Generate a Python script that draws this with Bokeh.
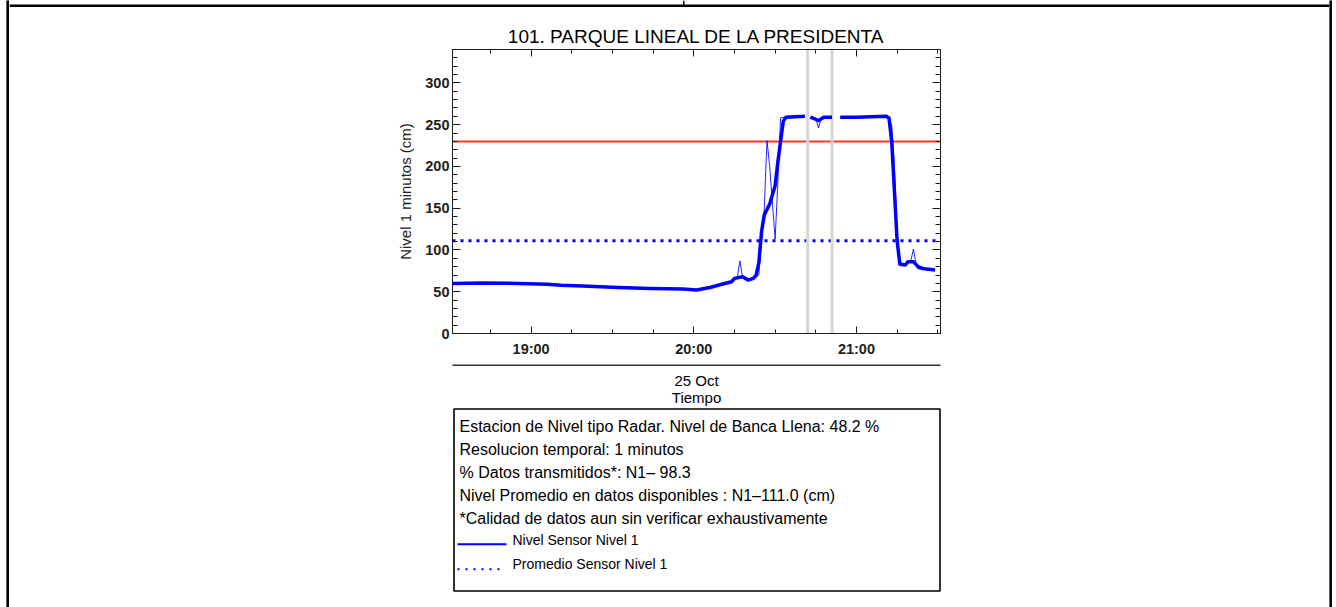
import pandas as pd
from bokeh.plotting import figure
from bokeh.layouts import column, row
from bokeh.models import (Range1d, FixedTicker, SingleIntervalTicker, DatetimeTickFormatter,
                          DatetimeAxis, LinearAxis, Span, Spacer)
from bokeh.core.properties import value
from bokeh.embed import file_html
from bokeh.resources import INLINE

nan = float("nan")
FONT = "Liberation Sans"

# ---------------- data ----------------
day = "2024-10-25"
title_text = "101. PARQUE LINEAL DE LA PRESIDENTA"
y_label = "Nivel 1 minutos (cm)"
date_label = "25 Oct"
x_label = "Tiempo"
x_start, x_end = "18:31", "21:31"
y_start, y_end = 0, 340
hour_ticks = ["19:00", "20:00", "21:00"]

level_times = ["18:31", "18:42", "18:55", "19:06", "19:11", "19:19", "19:32", "19:44", "19:56",
               "20:01", "20:06", "20:11", "20:14", "20:15", "20:18", "20:20", "20:22", "20:23",
               "20:24", "20:25", "20:26", "20:28", "20:30", "20:31", "20:33", "20:34", "20:41",
               "20:42", "20:43", "20:46", "20:48", "20:51", "20:52", "20:54", "21:00", "21:11",
               "21:12", "21:13", "21:14", "21:15", "21:16", "21:18", "21:19", "21:21", "21:23",
               "21:25", "21:29"]
level_vals = [60, 60.5, 60, 59, 57.7, 57, 55, 54, 53.3,
              52, 55, 59.5, 62, 66, 68, 64, 66, 70,
              85, 122, 142, 155, 177, 205, 254, 259, 260,
              nan, 259, 255, 259, 259, nan, 259, 259, 260,
              258, 230, 171, 111, 83, 82, 86, 86, 79,
              77.6, 76]

raw_times = ["18:31", "18:42", "18:55", "19:06", "19:11", "19:19", "19:32", "19:44", "19:56",
             "20:01", "20:06", "20:11", "20:14", "20:16", "20:17", "20:18", "20:20", "20:22",
             "20:24", "20:25", "20:26", "20:27", "20:28", "20:30", "20:31", "20:32", "20:35",
             "20:41", "20:42", "20:43", "20:45", "20:46", "20:47", "20:51", "20:52", "20:54",
             "21:00", "21:11", "21:13", "21:14", "21:15", "21:16", "21:17", "21:20", "21:21",
             "21:22", "21:25", "21:29"]
raw_vals = [60, 60.5, 60, 59, 58, 57, 55, 54, 53,
            52, 55, 59.5, 62, 66, 87, 67, 64, 66,
            70, 115, 150, 231, 200, 113, 180, 258, 260,
            260, nan, 259, 258, 246, 258, 259, nan, 259,
            259, 260, 250, 200, 120, 88, 82, 86, 101,
            83, 78, 76]

bankfull_level = 230
mean_level = 111.0
missing_times = ["20:42", "20:51"]

info_lines = [
    "Estacion de Nivel tipo Radar. Nivel de Banca Llena: 48.2 %",
    "Resolucion temporal: 1 minutos",
    "% Datos transmitidos*: N1\u2013 98.3",
    "Nivel Promedio en datos disponibles : N1\u2013111.0 (cm)",
    "*Calidad de datos aun sin verificar exhaustivamente",
]
legend_labels = ["Nivel Sensor Nivel 1", "Promedio Sensor Nivel 1"]

# ---------------- helpers ----------------
EPOCH = pd.Timestamp("1970-01-01")


def ts(lst):
    return pd.to_datetime([f"{day} {t}" for t in lst])


def ms(lst):
    return [float((t - EPOCH) / pd.Timedelta("1ms")) for t in ts(lst)]


BLUE = "#0000ff"
RED = "#f23c1e"
INK = "#1a1a1a"


def deco(x0, x1, y0, y1):
    f = figure(width=int(x1 - x0), height=int(y1 - y0), x_range=Range1d(x0, x1),
               y_range=Range1d(y1, y0), output_backend="svg", toolbar_location=None,
               min_border=0, x_axis_location=None, y_axis_location=None)
    f.outline_line_color = None
    f.xgrid.visible = False
    f.ygrid.visible = False
    f.background_fill_color = "white"
    f.border_fill_color = "white"
    return f


def strip(w, h):
    f = figure(width=w, height=h, x_range=Range1d(0, w), y_range=Range1d(0, h),
               output_backend="svg", toolbar_location=None, min_border=0,
               x_axis_location=None, y_axis_location=None)
    f.outline_line_color = None
    f.xgrid.visible = False
    f.ygrid.visible = False
    f.background_fill_color = "black"
    f.border_fill_color = "black"
    f.quad(left=[0], right=[w], bottom=[0], top=[h], fill_color="black", line_color=None)
    return f


# ---------------- top strip (title) ----------------
T = deco(9, 1329, 0, 48)
T.quad(left=[9], right=[1329], top=[4], bottom=[6.5], fill_color="black", line_color=None)
T.quad(left=[682.5], right=[684], top=[0], bottom=[4.5], fill_color="black", line_color=None)
T.text(x=[696], y=[36], text=[title_text], text_font=value(FONT), text_font_size="19px",
       text_align="center", text_baseline="middle", text_color="black")

# ---------------- chart ----------------
x_rng = Range1d(ts([x_start])[0], ts([x_end])[0])
C = figure(width=580, height=314, x_axis_type="datetime", x_range=x_rng,
           y_range=Range1d(y_start, y_end), output_backend="svg", toolbar_location=None,
           min_border_left=72, min_border_right=20, min_border_top=1, min_border_bottom=29)
C.xgrid.visible = False
C.ygrid.visible = False
C.outline_line_color = INK
C.outline_line_width = 1
C.background_fill_color = "white"
C.border_fill_color = "white"

major_x = ms(hour_ticks)
x0ms, x1ms = ms([x_start, x_end])
step = 15 * 60 * 1000
first = major_x[0]
while first - step >= x0ms:
    first -= step
minor_x = []
m = first
while m <= x1ms:
    minor_x.append(m)
    m += step
xticker = FixedTicker(ticks=major_x, minor_ticks=minor_x)
xfmt = DatetimeTickFormatter(hours="%H:%M", hourmin="%H:%M", minutes="%H:%M", days="%H:%M")
yticker = SingleIntervalTicker(interval=50, num_minor_ticks=5)


def style_axis(ax, tick_in, minor_in, labels=True):
    ax.major_tick_in = tick_in
    ax.major_tick_out = 0
    ax.minor_tick_in = minor_in
    ax.minor_tick_out = 0
    ax.axis_line_color = INK
    ax.major_tick_line_color = INK
    ax.minor_tick_line_color = INK
    if labels:
        ax.major_label_text_font = FONT
        ax.major_label_text_font_size = "14.5px"
        ax.major_label_text_font_style = "bold"
        ax.major_label_text_color = "#1e1e1e"
    else:
        ax.major_label_text_color = None
        ax.major_label_text_font_size = "0px"
        ax.major_label_standoff = 0


xa = C.xaxis[0]
xa.ticker = xticker
xa.formatter = xfmt
style_axis(xa, 7, 4)
xa.major_label_standoff = 7

ya = C.yaxis[0]
ya.ticker = yticker
style_axis(ya, 8, 5)
ya.major_label_standoff = 3
ya.axis_label = y_label
ya.axis_label_text_font = FONT
ya.axis_label_text_font_size = "15px"
ya.axis_label_text_font_style = "normal"
ya.axis_label_text_color = "#222222"
ya.axis_label_standoff = 8

top_ax = DatetimeAxis(ticker=xticker, formatter=xfmt)
style_axis(top_ax, 7, 4, labels=False)
C.add_layout(top_ax, "above")
right_ax = LinearAxis(ticker=yticker)
style_axis(right_ax, 8, 5, labels=False)
C.add_layout(right_ax, "right")

C.add_layout(Span(location=bankfull_level, dimension="width", line_color=RED, line_width=2,
                  level="underlay"))
C.add_layout(Span(location=mean_level, dimension="width", line_color=BLUE, line_width=3,
                  line_dash="3 5", level="underlay"))
for loc in ms(missing_times):
    C.add_layout(Span(location=loc, dimension="height", line_color="#d6d6d6", line_width=3,
                      level="underlay"))

C.line(x=ts(raw_times), y=raw_vals, line_color=BLUE, line_width=1, line_alpha=0.85)
C.line(x=ts(level_times), y=level_vals, line_color=BLUE, line_width=3.5, line_join="round")

middle = row(Spacer(width=371, height=314), C, Spacer(width=369, height=314))

# ---------------- bottom ----------------
B = deco(9, 1329, 362, 607)
B.quad(left=[452], right=[940], top=[364], bottom=[365.6], fill_color="#333333", line_color=None)
B.text(x=[696, 696], y=[380, 396.5], text=[date_label, x_label], text_font=value(FONT),
       text_font_size="15px", text_align="center", text_baseline="middle", text_color="black")
B.quad(left=[453.5], right=[939.5], top=[408.5], bottom=[590.5], fill_color=None,
       line_color="black", line_width=1.6)
B.text(x=[459] * len(info_lines), y=[426 + 23 * i for i in range(len(info_lines))],
       text=info_lines, text_font=value(FONT), text_font_size="16px", text_align="left",
       text_baseline="middle", text_color="black")
B.line(x=[457, 506], y=[543.7, 543.7], line_color=BLUE, line_width=2)
B.line(x=[457, 504], y=[568.7, 568.7], line_color=BLUE, line_width=2, line_dash="2 6")
B.text(x=[512, 512], y=[539.5, 563], text=legend_labels, text_font=value(FONT),
       text_font_size="14px", text_align="left", text_baseline="middle", text_color="black")

inner = column(T, middle, B)
page = row(Spacer(width=6, height=607), strip(3, 607), inner, strip(3, 607),
           Spacer(width=4, height=607))
open("out.html", "w").write(file_html(page, INLINE))
